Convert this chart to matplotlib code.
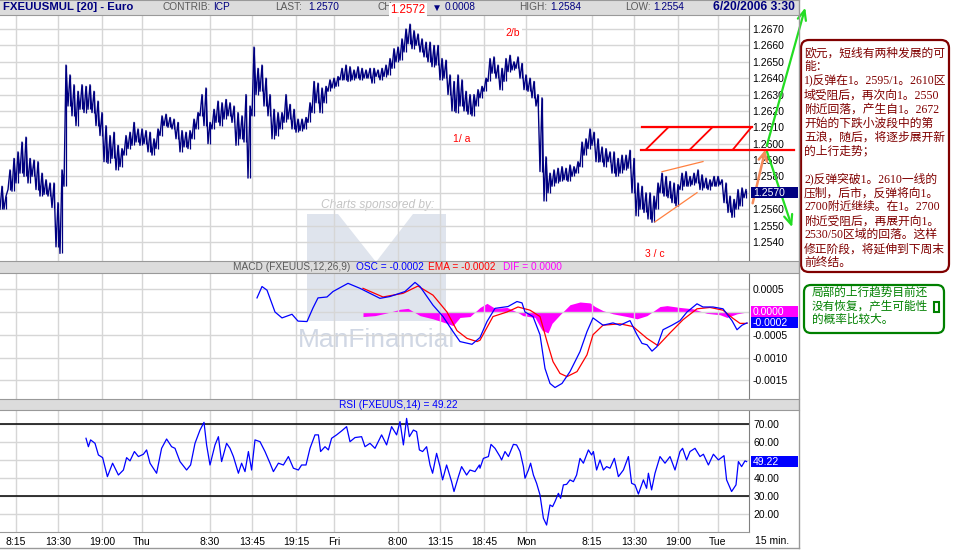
import matplotlib
matplotlib.use("Agg")
import matplotlib.pyplot as plt
import numpy as np
from matplotlib.patches import Rectangle, FancyBboxPatch, Polygon

W, H = 955, 550
plt.rcParams['font.family'] = ['Liberation Sans', 'DejaVu Sans']
CJK = ['Liberation Serif', 'Noto Sans CJK SC', 'DejaVu Sans']

NAVY = '#000080'
GRID = '#d6d6d6'
HDR = '#dcdcdc'

# 15-minute bars, x = bar index (0 = Wed 6:15)
tick_pos = [8, 29, 51, 71, 105, 126, 148, 167, 199, 220, 242, 263, 296, 317, 339, 359]
tick_lbl = ['8:15', '13:30', '19:00', 'Thu', '8:30', '13:45', '19:15', 'Fri',
            '8:00', '13:15', '18:45', 'Mon', '8:15', '13:30', '19:00', 'Tue']

# price high / low, one value per pair of bars
price_hi = [1.2574, 1.2568, 1.2584, 1.2591, 1.2595, 1.2601, 1.2604, 1.2591, 1.2590, 1.2589,
            1.2582, 1.2578, 1.2576, 1.2576, 1.2564, 1.2584, 1.2648, 1.2642, 1.2636, 1.2632,
            1.2636, 1.2635, 1.2636, 1.2632, 1.2626, 1.2619, 1.2611, 1.2605, 1.2607, 1.2599,
            1.2597, 1.2605, 1.2607, 1.2613, 1.2609, 1.2609, 1.2608, 1.2607, 1.2603, 1.2609,
            1.2617, 1.2618, 1.2616, 1.2615, 1.2613, 1.2608, 1.2607, 1.2608, 1.2615, 1.2619,
            1.2630, 1.2634, 1.2613, 1.2621, 1.2626, 1.2625, 1.2627, 1.2625, 1.2623, 1.2619,
            1.2617, 1.2630, 1.2623, 1.2659, 1.2646, 1.2648, 1.2640, 1.2630, 1.2621, 1.2619,
            1.2619, 1.2630, 1.2624, 1.2621, 1.2615, 1.2615, 1.2616, 1.2625, 1.2638, 1.2637,
            1.2634, 1.2635, 1.2639, 1.2640, 1.2641, 1.2646, 1.2648, 1.2647, 1.2645, 1.2647,
            1.2646, 1.2645, 1.2646, 1.2646, 1.2645, 1.2646, 1.2648, 1.2652, 1.2658, 1.2659,
            1.2664, 1.2670, 1.2673, 1.2669, 1.2667, 1.2664, 1.2662, 1.2662, 1.2660, 1.2660,
            1.2652, 1.2651, 1.2642, 1.2638, 1.2642, 1.2639, 1.2632, 1.2630, 1.2630, 1.2633,
            1.2635, 1.2640, 1.2652, 1.2653, 1.2648, 1.2646, 1.2652, 1.2654, 1.2650, 1.2653,
            1.2649, 1.2642, 1.2640, 1.2638, 1.2630, 1.2628, 1.2592, 1.2582, 1.2584, 1.2585,
            1.2586, 1.2585, 1.2587, 1.2586, 1.2589, 1.2601, 1.2603, 1.2609, 1.2607, 1.2603,
            1.2598, 1.2597, 1.2595, 1.2595, 1.2591, 1.2593, 1.2593, 1.2596, 1.2591, 1.2576,
            1.2574, 1.2570, 1.2570, 1.2568, 1.2576, 1.2582, 1.2580, 1.2577, 1.2576, 1.2575,
            1.2582, 1.2583, 1.2580, 1.2582, 1.2584, 1.2581, 1.2579, 1.2578, 1.2580, 1.2580,
            1.2578, 1.2576, 1.2568, 1.2566, 1.2572, 1.2573, 1.2572]
price_lo = [1.2560, 1.2560, 1.2572, 1.2571, 1.2576, 1.2582, 1.2580, 1.2576, 1.2580, 1.2572,
            1.2568, 1.2569, 1.2568, 1.2561, 1.2537, 1.2533, 1.2574, 1.2623, 1.2617, 1.2611,
            1.2621, 1.2619, 1.2621, 1.2619, 1.2611, 1.2605, 1.2589, 1.2588, 1.2591, 1.2584,
            1.2586, 1.2593, 1.2597, 1.2599, 1.2601, 1.2599, 1.2600, 1.2595, 1.2593, 1.2597,
            1.2605, 1.2611, 1.2610, 1.2609, 1.2603, 1.2595, 1.2598, 1.2597, 1.2603, 1.2609,
            1.2617, 1.2611, 1.2600, 1.2609, 1.2613, 1.2611, 1.2615, 1.2617, 1.2613, 1.2599,
            1.2603, 1.2601, 1.2579, 1.2617, 1.2630, 1.2632, 1.2623, 1.2617, 1.2603, 1.2605,
            1.2609, 1.2613, 1.2615, 1.2609, 1.2607, 1.2608, 1.2609, 1.2613, 1.2619, 1.2625,
            1.2619, 1.2625, 1.2632, 1.2634, 1.2635, 1.2639, 1.2639, 1.2638, 1.2639, 1.2640,
            1.2639, 1.2640, 1.2640, 1.2637, 1.2641, 1.2639, 1.2641, 1.2642, 1.2646, 1.2650,
            1.2651, 1.2656, 1.2661, 1.2658, 1.2660, 1.2656, 1.2653, 1.2650, 1.2647, 1.2648,
            1.2639, 1.2640, 1.2630, 1.2620, 1.2619, 1.2623, 1.2620, 1.2618, 1.2617, 1.2623,
            1.2628, 1.2632, 1.2638, 1.2643, 1.2640, 1.2633, 1.2638, 1.2644, 1.2645, 1.2646,
            1.2640, 1.2633, 1.2632, 1.2628, 1.2623, 1.2583, 1.2565, 1.2570, 1.2574, 1.2576,
            1.2577, 1.2578, 1.2577, 1.2580, 1.2582, 1.2586, 1.2593, 1.2597, 1.2599, 1.2589,
            1.2589, 1.2586, 1.2589, 1.2582, 1.2580, 1.2582, 1.2584, 1.2585, 1.2570, 1.2556,
            1.2560, 1.2558, 1.2554, 1.2552, 1.2560, 1.2570, 1.2568, 1.2567, 1.2564, 1.2562,
            1.2572, 1.2574, 1.2574, 1.2575, 1.2576, 1.2572, 1.2573, 1.2572, 1.2574, 1.2574,
            1.2575, 1.2564, 1.2558, 1.2555, 1.2560, 1.2562, 1.2567]

# MACD (12,26,9)
macd_x = [128.5, 131, 133.5, 137.5, 141, 146, 149, 153.5, 156.5, 159, 163.5, 166.5, 174, 180,
          185, 190, 195, 202.5, 207.5, 210, 216.5, 221.5, 226.5, 230, 236, 240, 243.5, 247.5,
          254, 258.5, 261, 262.5, 266.5, 270, 272.5, 275, 277.5, 281, 285, 290, 293.5, 296.5,
          301.5, 306.5, 310, 315, 318.5, 321, 323.5, 326, 328.5, 331.5, 336, 340, 343.5, 348.5,
          351.5, 356.5, 361.5, 366, 368.5, 371, 373.5]
macd_v = [0.00031, 0.00056, 0.00048, 0.0, -0.00013, -0.00005, -0.0002, -0.00021, 0.00009,
          0.00031, 0.00033, 0.00045, 0.00063, 0.00052, 0.00041, 0.0003, 0.00034, 0.00045,
          0.00065, 0.00056, 0.00015, -0.0001, -0.00043, -0.00065, -0.00071, -0.00056,
          -0.00021, 0.00008, 0.00012, 0.00023, 0.0002, 0.0, -0.0001, -0.0005, -0.00124,
          -0.00157, -0.00166, -0.00157, -0.00131, -0.00087, -0.00043, -0.00013, -0.00029,
          -0.00024, -0.00029, -0.00019, -0.0005, -0.00069, -0.00072, -0.00086, -0.00076,
          -0.00039, -0.00029, -0.00019, 0.0, 0.00018, 0.00011, 0.00011, 0.00007, -0.00019,
          -0.00039, -0.00029, -0.00024]
ema_x = [181.5, 191.5, 201.5, 209, 216.5, 223.5, 228.5, 233.5, 238.5, 240, 246.5, 253.5, 259,
         265, 270, 273.5, 276.5, 280, 283.5, 288.5, 293.5, 296.5, 301.5, 310, 316.5, 323.5,
         329, 335, 341.5, 348.5, 355, 361.5, 366.5, 370, 373.5]
ema_v = [0.00052, 0.00033, 0.00041, 0.00057, 0.00037, 0.0, -0.00041, -0.00058, -0.00065,
         -0.00062, -0.0001, 0.0, 0.00011, 0.00004, -0.0001, -0.00065, -0.00109, -0.00135,
         -0.00142, -0.00131, -0.00094, -0.0005, -0.00029, -0.00026, -0.00032, -0.00058,
         -0.00074, -0.00046, -0.00017, 0.00007, 0.0001, 0.00004, -0.00014, -0.00025, -0.00025]
dif_x = [181.5, 187.5, 193.5, 200, 204, 210, 216.5, 223.5, 226.5, 230, 235, 240, 243.5, 247.5,
         253.5, 258.5, 261.5, 267.5, 271, 274, 276, 280, 282.5, 285, 290, 295, 297.5, 301.5,
         306.5, 313.5, 318.5, 323.5, 330, 333.5, 340, 346.5, 353.5, 360, 363.5, 368.5, 373.5]
dif_v = [-0.0001, -0.00008, -0.00002, 0.00006, 0.00008, -0.00008, -0.00015, -0.00025, -0.0003,
         -0.00012, -0.0001, 0.0001, 0.00019, 0.00008, 0.0001, 0.0, -0.00008, -0.00012, -0.0004,
         -0.00046, -0.00025, -0.00006, 0.00005, 0.00016, 0.00022, 0.0002, 0.00012, 0.00003,
         -0.00004, -0.0001, -0.00015, -0.00008, 0.00012, 0.00014, 0.0001, 0.00007, -0.00003,
         -0.00006, -0.00012, -0.00004, 0.0]

# RSI (14)
rsi_x = [43.0, 44.2, 45.3, 47.5, 49.2, 51.3, 53.7, 56.3, 59.2, 61.7, 63.3, 65.0, 67.2, 69.2,
         71.7, 73.3, 75.0, 78.3, 80.8, 83.3, 85.8, 87.5, 90.0, 93.3, 95.3, 97.5, 100.0, 102.0,
         103.3, 105.0, 107.5, 109.2, 110.8, 113.3, 115.0, 116.7, 119.2, 120.8, 122.5, 124.2,
         125.8, 127.5, 130.0, 132.5, 135.0, 136.7, 139.2, 141.7, 144.2, 146.7, 149.2, 150.8,
         153.0, 155.0, 157.5, 159.2, 160.3, 162.5, 164.2, 165.8, 168.3, 170.8, 173.3, 175.0,
         177.5, 180.8, 182.5, 185.0, 187.5, 190.8, 193.3, 195.8, 198.3, 200.0, 201.7, 203.3,
         204.7, 206.7, 208.3, 209.7, 211.3, 213.3, 215.0, 216.3, 218.3, 220.0, 221.3, 223.3,
         225.8, 227.0, 229.2, 230.8, 233.3, 235.0, 237.5, 239.7, 240.0, 241.7, 244.2, 245.5,
         247.5, 250.0, 250.8, 252.5, 254.2, 256.7, 258.3, 260.0, 261.7, 262.5, 264.2, 265.3,
         266.7, 268.3, 270.0, 271.7, 273.3, 275.0, 276.3, 277.5, 279.2, 280.3, 281.7, 283.3,
         285.0, 286.7, 288.3, 290.0, 291.7, 294.2, 295.8, 296.7, 298.3, 300.0, 301.7, 303.3,
         305.0, 307.2, 309.2, 311.7, 314.2, 315.8, 317.5, 319.2, 321.7, 323.3, 324.2, 325.8,
         327.5, 330.0, 332.5, 335.0, 337.5, 340.0, 341.3, 343.3, 345.0, 347.5, 350.0, 351.7,
         354.2, 356.7, 359.2, 362.0, 363.3, 365.8, 368.0, 369.2, 370.8, 372.5, 373.3]
rsi_v = [62.2, 57.5, 61.3, 59.4, 52.9, 51.4, 40.8, 48.3, 41.7, 44.5, 51.4, 49.6, 54.8, 52.0,
         53.3, 55.7, 48.3, 42.7, 56.6, 61.8, 57.5, 56.6, 49.2, 44.5, 47.3, 59.4, 66.8, 71.1,
         58.5, 47.3, 58.5, 63.1, 49.2, 59.4, 56.6, 52.0, 42.7, 48.3, 43.6, 54.8,
         44.5, 61.3, 60.3, 54.8, 48.3, 43.6, 48.3, 47.3, 52.0, 45.5, 44.5, 47.3,
         47.3, 56.6, 64.1, 64.1, 54.8, 57.5, 55.7, 62.2, 64.1, 66.3, 68.7, 60.3,
         62.6, 63.1, 57.5, 59.4, 56.6, 64.1, 58.5, 68.7, 64.1, 71.5, 58.5, 73.3,
         63.1, 66.8, 65.9, 55.7, 54.8, 57.5, 47.3, 42.7, 53.8, 46.4, 39.0, 47.3,
         38.0, 32.5, 40.8, 46.4, 41.7, 44.5, 43.6, 47.3, 45.5, 51.0, 52.0, 58.8,
         56.6, 52.0, 50.1, 54.8, 52.0, 58.8, 58.5, 54.8, 46.4, 39.9, 44.5, 48.3,
         41.7, 37.1, 30.6, 17.6, 13.8, 25.0, 24.1, 26.9, 31.5, 28.7, 36.2, 36.5,
         39.0, 38.0, 41.7, 51.0, 48.3, 55.7, 52.9, 54.8, 44.5, 50.1, 44.5, 46.4,
         45.5, 51.0, 40.8, 44.5, 52.0, 37.1, 36.2, 31.1, 39.0, 34.3, 42.7, 33.4,
         42.7, 52.0, 48.3, 52.0, 44.5, 54.8, 56.6, 50.1, 54.8, 56.6, 52.0, 53.3,
         47.3, 53.3, 50.1, 52.5, 39.0, 32.5, 36.2, 49.2, 46.4, 49.6, 49.2]

note_lines = ['欧元，短线有两种发展的可', '能：', '1)反弹在1。2595/1。2610区',
              '域受阻后，再次向1。2550', '附近回落，产生自1。2672',
              '开始的下跌小波段中的第', '五浪，随后，将逐步展开新', '的上行走势；', '',
              '2)反弹突破1。2610一线的', '压制，后市，反弹将向1。',
              '2700附近继续。在1。2700', '附近受阻后，再展开向1。',
              '2530/50区域的回落。这样', '修正阶段，将延伸到下周末', '前终结。']
note2_lines = ['局部的上行趋势目前还', '没有恢复，产生可能性', '的概率比较大。']

fig = plt.figure(figsize=(W / 100, H / 100), dpi=100)
fig.patch.set_facecolor('white')


def px_axes(x0, y0, x1, y1, z=1):
    return fig.add_axes([x0 / W, 1 - y1 / H, (x1 - x0) / W, (y1 - y0) / H], zorder=z)


def pix_layer(z):
    ax = px_axes(0, 0, W, H, z)
    ax.set_xlim(0, W); ax.set_ylim(H, 0)
    ax.axis('off')
    return ax


# watermark behind the panels
bg = pix_layer(0)
bg.add_patch(Polygon([(307, 214), (338, 214), (376, 262), (413, 214), (446, 214),
                      (446, 321), (307, 321)], closed=True, color='#dfe4ed', lw=0))
bg.text(378, 205, 'Charts sponsored by:', fontsize=8.6, style='italic', color='#c4c4c4',
        ha='center', va='center')
bg.text(376, 347, 'ManFinancial', fontsize=19, color='#d0d7e4', ha='center', va='baseline')


def panel(y0, y1, ylim):
    ax = px_axes(0, y0, 749, y1, 1)
    ax.patch.set_alpha(0)
    ax.set_xlim(0, 374.5)
    ax.set_ylim(*ylim)
    ax.set_xticks(tick_pos)
    ax.grid(True, color=GRID, lw=1.0)
    ax.yaxis.tick_right()
    ax.tick_params(length=0, labelsize=7.5, pad=2.5, labelbottom=False)
    for s in ('top', 'left', 'bottom'):
        ax.spines[s].set_visible(False)
    ax.spines['right'].set_color('#808080')
    return ax


ax_p = panel(15, 261, (1.252837, 1.267858))
ax_m = panel(273, 399, (-0.001912, 0.000857))
ax_r = panel(410, 532, (9.91, 77.98))

# price bars: high-low strokes, drawn as a tight low->high sawtooth
k = np.arange(len(price_hi))
hi = np.array(price_hi); lo = np.array(price_lo)
ax_p.vlines(2 * k + 1, lo, hi, color=NAVY, lw=0.9)
saw_x = np.ravel(np.column_stack([2 * k, 2 * k + 1]))
saw_y = np.ravel(np.column_stack([lo, hi]))
ax_p.plot(saw_x, saw_y, color=NAVY, lw=1.0)
p_ticks = np.round(np.arange(1.2540, 1.26705, 0.001), 4)
ax_p.set_yticks(p_ticks)
ax_p.set_yticklabels(['' if abs(v - 1.2570) < 1e-6 else f'{v:.4f}' for v in p_ticks])

# MACD
ax_m.fill_between(dif_x, 0, dif_v, color='#ff00ff', lw=0)
ax_m.plot(ema_x, ema_v, color='#ff0000', lw=0.9)
ax_m.plot(macd_x, macd_v, color='#0000ff', lw=0.9)
ax_m.set_yticks([-0.0015, -0.001, -0.0005, 0, 0.0005])
ax_m.set_yticklabels(['-0.0015', '-0.0010', '-0.0005', '', '0.0005'])

# RSI
ax_r.axhline(70, color='black', lw=1.1)
ax_r.axhline(30, color='black', lw=1.1)
ax_r.plot(rsi_x, rsi_v, color='#0000ff', lw=0.9)
ax_r.set_yticks([20, 30, 40, 50, 60, 70])
ax_r.set_yticklabels(['20.00', '30.00', '40.00', '', '60.00', '70.00'])
ax_r.tick_params(labelbottom=True, pad=3.5)
ax_r.set_xticklabels(tick_lbl)
ax_r.spines['bottom'].set_visible(True)
ax_r.spines['bottom'].set_color('#999999')


def header(y0, y1):
    ax = px_axes(0, y0, 799, y1, 2)
    ax.set_facecolor(HDR)
    ax.set_xlim(0, 799); ax.set_ylim(y1, y0)
    ax.set_xticks([]); ax.set_yticks([])
    for s in ('left', 'right'):
        ax.spines[s].set_visible(False)
    for s in ('top', 'bottom'):
        ax.spines[s].set_color('#999999')
    return ax


GRAYT = '#5a5a5a'
h1 = header(0, 15)
yc = 7.5
h1.text(3, yc, 'FXEUUSMUL [20] - Euro', fontsize=8.2, weight='bold', color=NAVY, va='center')
for x, s, c in [(162, 'CONTRIB:', GRAYT), (213, 'ICP', NAVY), (275, 'LAST:', GRAYT),
                (308, '1.2570', NAVY), (377, 'CH', GRAYT), (432, '▼', NAVY),
                (445, '0.0008', NAVY), (519, 'HIGH:', GRAYT), (550, '1.2584', NAVY),
                (625, 'LOW:', GRAYT), (653, '1.2554', NAVY)]:
    h1.text(x, yc, s, fontsize=7.3, color=c, va='center')
h1.text(795, yc, '6/20/2006 3:30', fontsize=8.7, weight='bold', color=NAVY, va='center', ha='right')

h2 = header(261, 273)
for x, s, c in [(233, 'MACD (FXEUUS,12,26,9)', GRAYT), (356, 'OSC = -0.0002', '#0000ff'),
                (428, 'EMA = -0.0002', '#ff0000'), (503, 'DIF = 0.0000', '#ff00ff')]:
    h2.text(x, 267, s, fontsize=7.3, color=c, va='center')

h3 = header(399, 410)
h3.text(398, 404.5, 'RSI (FXEUUS,14) = 49.22', fontsize=7.3, color='#0000ff', va='center', ha='center')

# overlay layer
ov = pix_layer(5)


def value_tag(ax, val, label, color, dy=0.0):
    y = H - ax.transData.transform((0, val))[1] + dy
    ov.add_patch(Rectangle((751, y - 5.5), 47, 11, color=color, lw=0))
    ov.text(753, y, label, color='white', fontsize=7.5, va='center', ha='left')


value_tag(ax_p, 1.2570, '1.2570', NAVY)
value_tag(ax_m, 0.0, '0.0000', '#ff00ff')
value_tag(ax_m, 0.0, '-0.0002', '#0000ff', dy=11)
value_tag(ax_r, 49.22, '49.22', '#0000ff')

ov.text(755, 541, '15 min.', fontsize=7.5, color='black', va='center')
ov.plot([799, 799], [0, 548], color='#999999', lw=1)
ov.plot([0, 799], [548, 548], color='#999999', lw=1)

# hand-drawn analysis marks on the price panel
zone_top, zone_bot = 1.2610, 1.2596
ax_p.plot([321, 376], [zone_top, zone_top], color='#ff0000', lw=1.6, clip_on=False, zorder=4)
ax_p.plot([320.5, 397], [zone_bot, zone_bot], color='#ff0000', lw=1.6, clip_on=False, zorder=4)
for x0, x1 in [(323, 334), (345, 356), (366.5, 375.5)]:
    ax_p.plot([x0, x1], [zone_bot + 0.00005, zone_top - 0.00002], color='#ff0000', lw=1.3,
              clip_on=False, zorder=4)
ax_p.plot([331, 351.5], [1.25829, 1.25891], color='#ff8040', lw=0.9, zorder=4)
ax_p.plot([327.5, 348.5], [1.25523, 1.25701], color='#ff8040', lw=0.9, zorder=4)

ax_p.annotate('', xy=(383, 1.2598), xytext=(376, 1.2562), annotation_clip=False,
              arrowprops=dict(arrowstyle='->,head_length=0.6,head_width=0.3', color='#f58a5a', lw=1.8))
ax_p.annotate('', xy=(403, 1.26847), xytext=(383, 1.2597), annotation_clip=False,
              arrowprops=dict(arrowstyle='->,head_length=0.7,head_width=0.3', color='#22dd22', lw=1.6))
ax_p.annotate('', xy=(396.5, 1.25474), xytext=(383, 1.2597), annotation_clip=False,
              arrowprops=dict(arrowstyle='->,head_length=0.7,head_width=0.3', color='#22dd22', lw=1.6))

ax_p.text(256.5, 1.26675, '2/b', color='#ff0000', fontsize=7.5, ha='center', va='center',
          bbox=dict(facecolor='white', edgecolor='none', pad=1))
ax_p.text(231, 1.26026, '1/ a', color='#ff0000', fontsize=7.5, ha='center', va='center')
ax_p.text(327.5, 1.25327, '3 / c', color='#ff0000', fontsize=7.5, ha='center', va='center')
ov.text(408, 10, '1.2572', color='#ff0000', fontsize=8.3, ha='center', va='center',
        bbox=dict(facecolor='white', edgecolor='none', pad=1.0))

# commentary boxes
ov.add_patch(FancyBboxPatch((801, 40), 148, 232, boxstyle='round,pad=0,rounding_size=8',
                            facecolor='white', edgecolor='#800000', lw=1.6))
for i, line in enumerate(note_lines):
    ov.text(804, 53.3 + 14.0 * i, line, family=CJK, fontsize=8.5, color='#800000', va='center')

ov.add_patch(FancyBboxPatch((804, 285), 140, 48, boxstyle='round,pad=0,rounding_size=7',
                            facecolor='white', edgecolor='#008000', lw=1.6))
for i, line in enumerate(note2_lines):
    ov.text(812, 293 + 13.2 * i, line, family=CJK, fontsize=8.4, color='#008000', va='center')
ov.add_patch(Rectangle((934, 302), 5, 10, facecolor='white', edgecolor='#008000', lw=1.5))

fig.savefig('out.png', dpi=100, facecolor='white')
